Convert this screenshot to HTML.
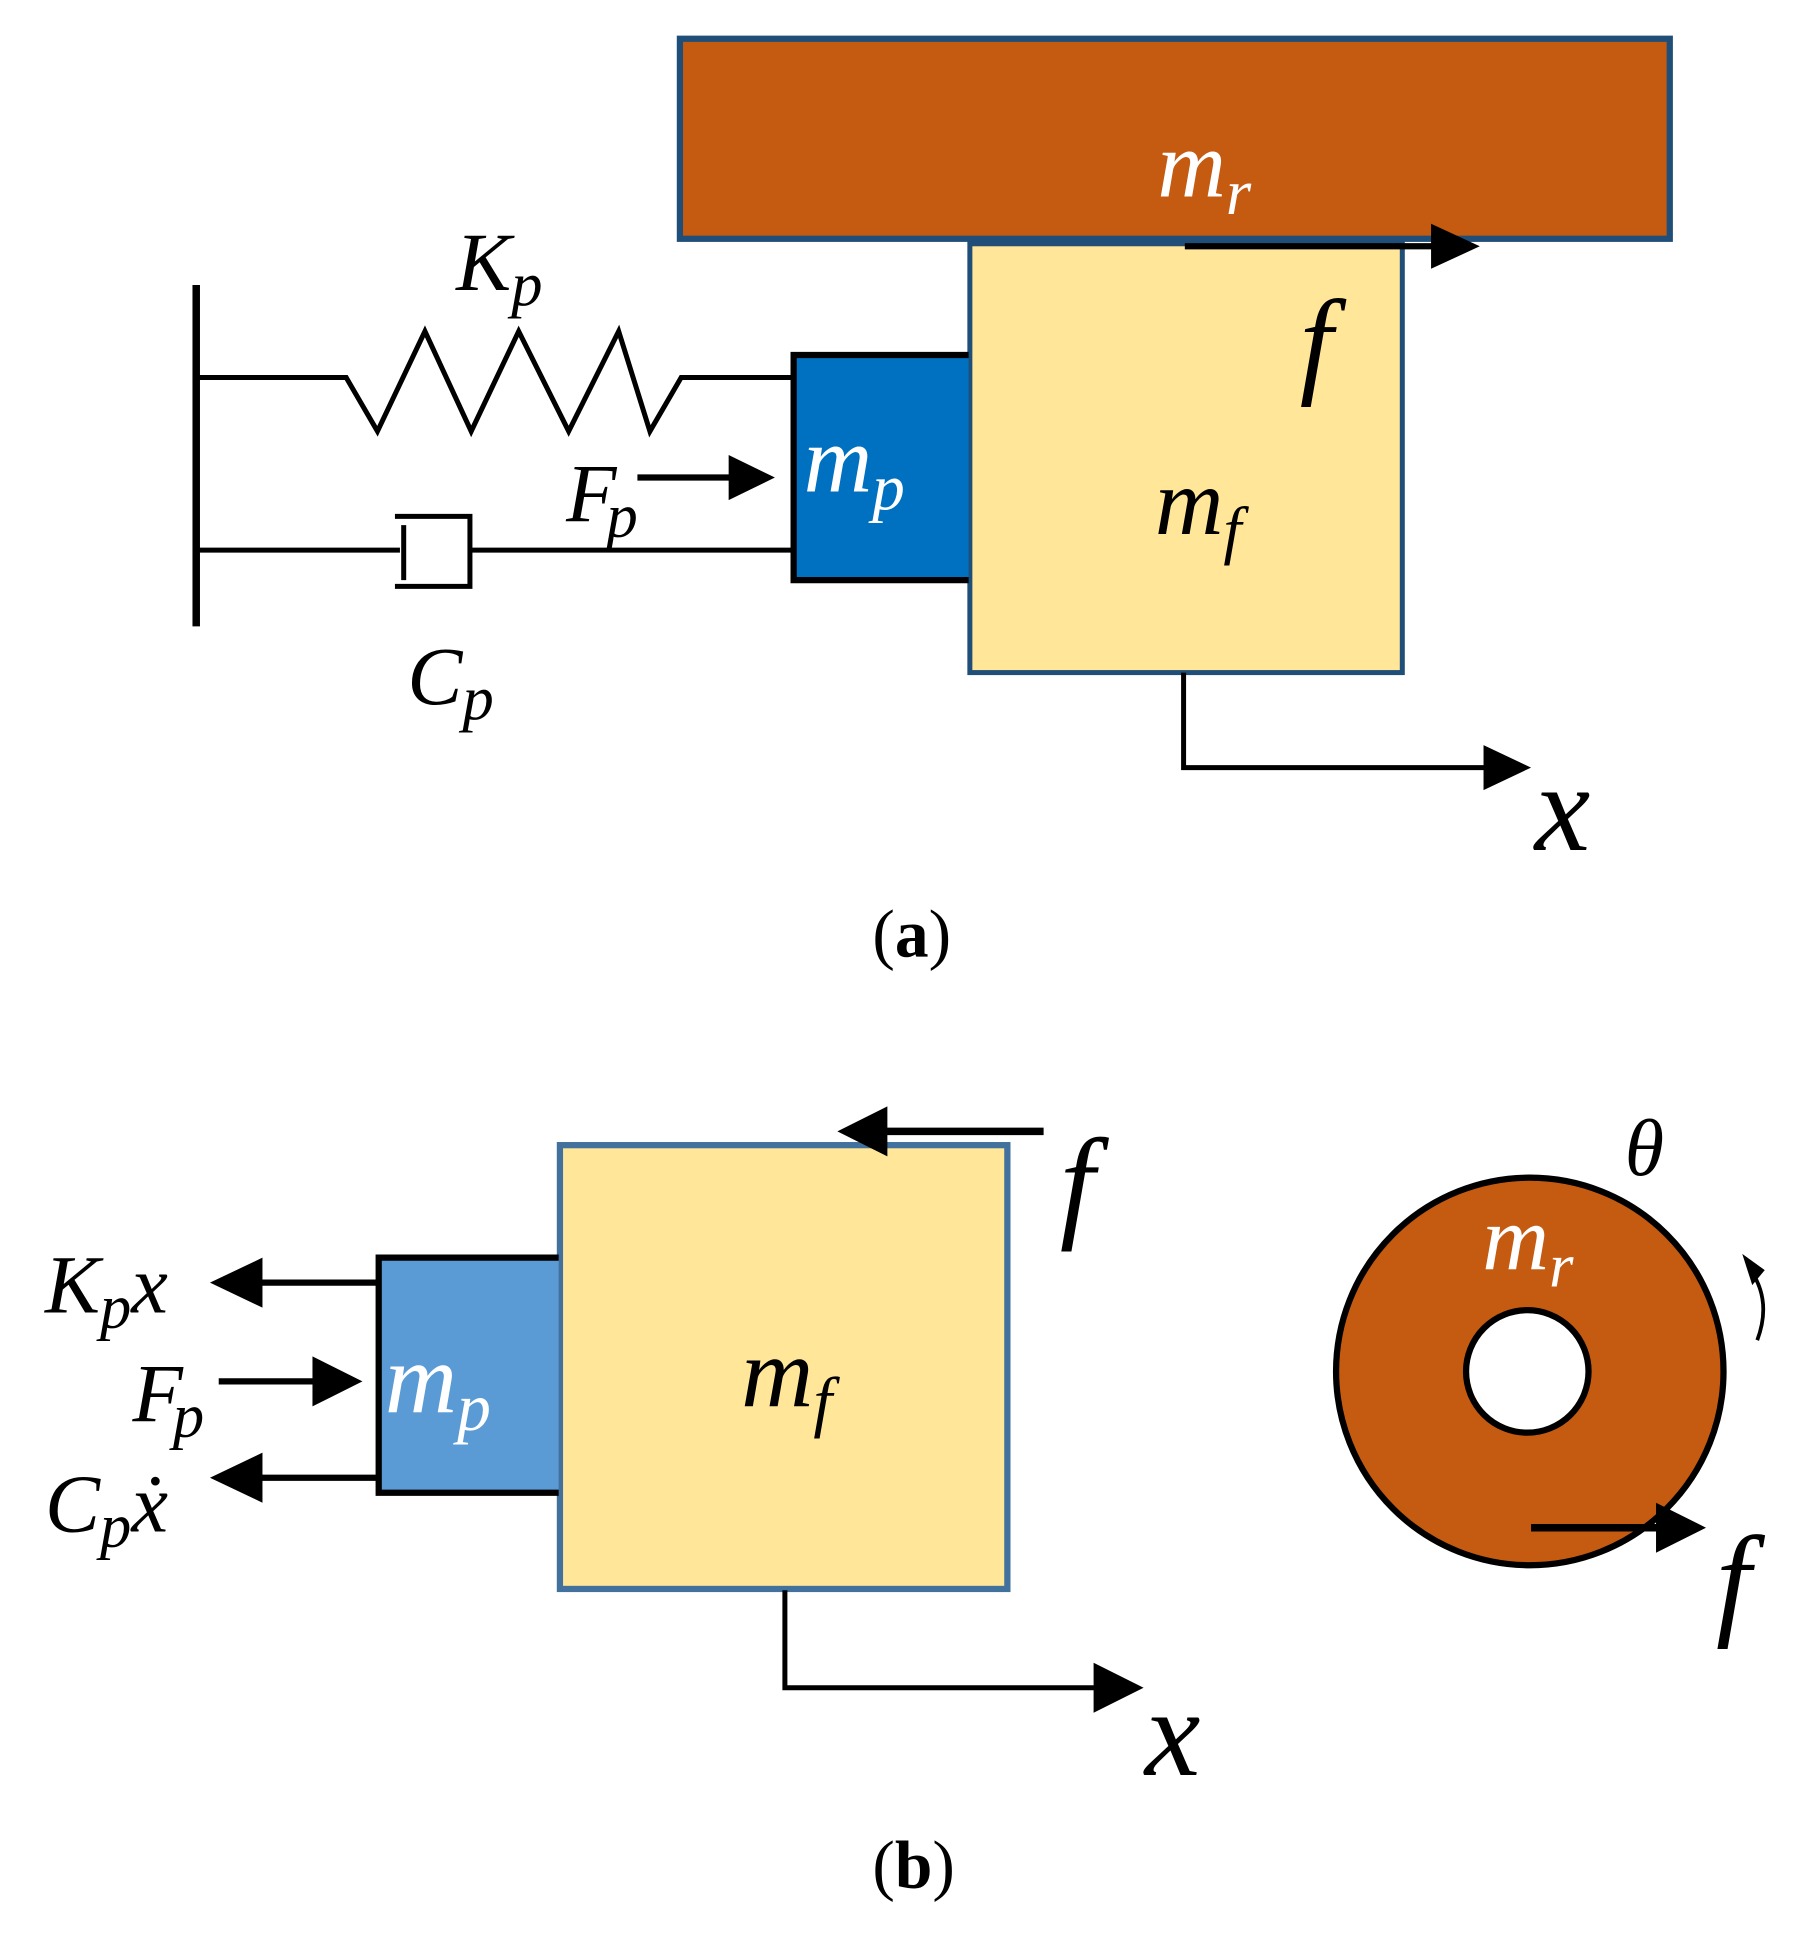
<!DOCTYPE html>
<html><head><meta charset="utf-8"><style>
html,body{margin:0;padding:0;background:#fff;}
svg{display:block;}
text{font-family:"Liberation Serif",serif;font-style:italic;}
text.cap{font-style:normal;}
</style></head><body>
<svg width="1806" height="1949" viewBox="0 0 1445 1559" preserveAspectRatio="none" xmlns="http://www.w3.org/2000/svg">
<!-- (a) -->
<rect x="544" y="31" width="792" height="160" fill="#C55A11" stroke="#1F4E79" stroke-width="5"/>
<rect x="776" y="195" width="346" height="343" fill="#FFE699" stroke="#1F4E79" stroke-width="4"/>
<path d="M775,284 L635,284 L635,464 L775,464" fill="#0070C0" stroke="#000" stroke-width="5"/>
<line x1="157" y1="228" x2="157" y2="501" stroke="#000" stroke-width="6"/>
<polyline points="157,302 277,302 302,345 340,265 377,345 415,265 455,345 495,265 520,345 545,302 633,302" fill="none" stroke="#000" stroke-width="4"/>
<line x1="157" y1="440" x2="320" y2="440" stroke="#000" stroke-width="4"/>
<polyline points="316,413 376,413 376,469 316,469" fill="none" stroke="#000" stroke-width="4"/>
<line x1="323" y1="420" x2="323" y2="464" stroke="#000" stroke-width="4"/>
<line x1="376" y1="440" x2="633" y2="440" stroke="#000" stroke-width="4"/>
<line x1="510" y1="382" x2="585" y2="382" stroke="#000" stroke-width="5"/>
<path d="M583,364 L620,382 L583,400z"/>
<line x1="948" y1="197" x2="1147" y2="197" stroke="#000" stroke-width="5"/>
<path d="M1145,179 L1184,197 L1145,215z"/>
<polyline points="947,538 947,614 1190,614" fill="none" stroke="#000" stroke-width="4"/>
<path d="M1187,596 L1225,614 L1187,632z"/>
<text x="926" y="157" font-size="76" fill="#fff">m<tspan font-size="52" dy="14">r</tspan></text>
<text x="1040" y="305" font-size="95">f</text>
<text x="924" y="427" font-size="76">m<tspan font-size="52" dy="14">f</tspan></text>
<text x="643" y="393" font-size="76" fill="#fff">m<tspan font-size="52" dy="14">p</tspan></text>
<text x="365" y="232" font-size="66">K<tspan font-size="50" dy="12">p</tspan></text>
<text x="326" y="563" font-size="66">C<tspan font-size="50" dy="12">p</tspan></text>
<text x="453" y="417" font-size="66">F<tspan font-size="50" dy="12" dx="-8">p</tspan></text>
<text x="1228" y="680" font-size="100">x</text>
<text class="cap" x="698" y="765" font-size="54" style="font-style:normal">(<tspan font-weight="bold">a</tspan>)</text>
<!-- (b) -->
<rect x="448" y="916" width="358" height="355" fill="#FFE699" stroke="#41719C" stroke-width="5"/>
<path d="M447,1006 L303,1006 L303,1194 L447,1194" fill="#5B9BD5" stroke="#000" stroke-width="5"/>
<line x1="835" y1="905" x2="708" y2="905" stroke="#000" stroke-width="6"/>
<path d="M710,885 L670,905 L710,925z"/>
<line x1="302" y1="1026" x2="205" y2="1026" stroke="#000" stroke-width="5"/>
<path d="M210,1006 L168,1026 L210,1046z"/>
<line x1="175" y1="1105" x2="252" y2="1105" stroke="#000" stroke-width="5"/>
<path d="M250,1085 L290,1105 L250,1125z"/>
<line x1="302" y1="1182" x2="205" y2="1182" stroke="#000" stroke-width="5"/>
<path d="M210,1162 L168,1182 L210,1202z"/>
<polyline points="628,1272 628,1350 877,1350" fill="none" stroke="#000" stroke-width="4"/>
<path d="M875,1330 L915,1350 L875,1370z"/>
<circle cx="1224" cy="1097" r="155" fill="#C55A11" stroke="#000" stroke-width="5"/>
<circle cx="1222" cy="1097" r="49" fill="#fff" stroke="#000" stroke-width="5"/>
<line x1="1225" y1="1222" x2="1328" y2="1222" stroke="#000" stroke-width="6"/>
<path d="M1325,1202 L1365,1222 L1325,1242z"/>
<path d="M1406,1072 Q1418,1040 1400,1015" fill="none" stroke="#000" stroke-width="3"/>
<path d="M1394,1003 L1412,1016 L1402,1028z"/>
<text x="848" y="980" font-size="100">f</text>
<text x="1300" y="940" font-size="64">θ</text>
<text x="1186" y="1015" font-size="74" fill="#fff">m<tspan font-size="50" dy="14">r</tspan></text>
<text x="1373" y="1298" font-size="100">f</text>
<text x="593" y="1125" font-size="80">m<tspan font-size="54" dy="14">f</tspan></text>
<text x="308" y="1130" font-size="80" fill="#fff">m<tspan font-size="54" dy="14">p</tspan></text>
<text x="36" y="1050" font-size="66">K<tspan font-size="50" dy="12">p</tspan><tspan font-size="66" dy="-12">x</tspan></text>
<text x="106" y="1137" font-size="66">F<tspan font-size="50" dy="12" dx="-8">p</tspan></text>
<text x="36" y="1225" font-size="66">C<tspan font-size="50" dy="12">p</tspan><tspan font-size="66" dy="-12">ẋ</tspan></text>
<text x="916" y="1420" font-size="100">x</text>
<text class="cap" x="698" y="1510" font-size="54" style="font-style:normal">(<tspan font-weight="bold">b</tspan>)</text>
</svg>
</body></html>
